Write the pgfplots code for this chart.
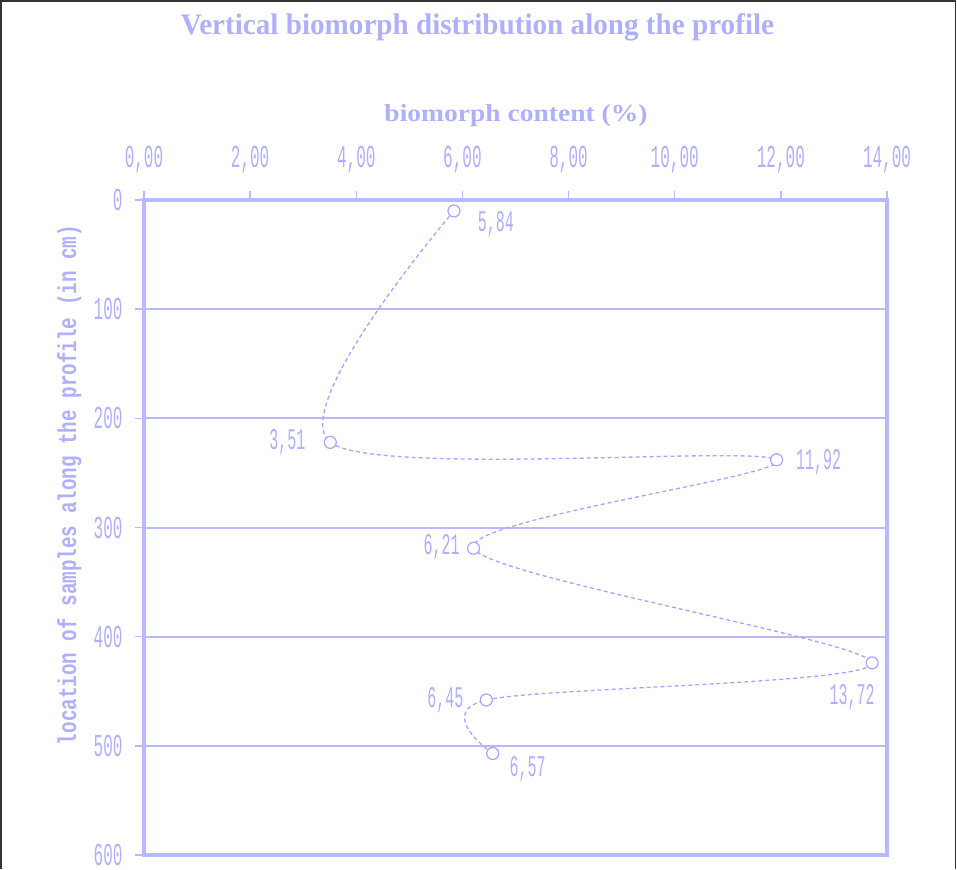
\documentclass[border=0pt]{standalone}
\usepackage{fontspec}
\setmainfont{Liberation Serif}
\newfontfamily\monof[FakeStretch=0.5]{Liberation Mono}
\newfontfamily\monoy[FakeStretch=0.8]{Liberation Mono}
\usepackage{pgfplots}
\pgfplotsset{compat=1.18}
\definecolor{lav}{RGB}{185,185,255}
\definecolor{lavline}{RGB}{165,165,250}
\definecolor{lavtext}{RGB}{175,175,250}
\tikzset{lbl/.style={font=\monof\fontsize{30}{30}\selectfont, text=lavtext}}
\begin{document}
\begin{tikzpicture}[x=1pt,y=1pt]
\path[use as bounding box] (0,0) rectangle (957,869);
\draw[black!80, line width=1.5pt] (1,0) -- (1,868) -- (955.5,868) -- (955.5,0);
\node[anchor=base, text=lavtext] at (477.5,834) {\resizebox{593pt}{21pt}{\bfseries Vertical biomorph distribution along the profile}};
\node[anchor=base, text=lavtext] at (516,747) {\resizebox{263pt}{17pt}{\bfseries biomorph content (\%)}};
\node[anchor=base, rotate=90, text=lavtext] at (76,384) {\resizebox{520pt}{19pt}{\bfseries\monoy location of samples along the profile (in cm)}};
\begin{axis}[at={(144pt,14pt)}, anchor=south west, scale only axis, width=743pt, height=655pt,
 xmin=0, xmax=14, ymin=0, ymax=600, y dir=reverse,
 xtick={0,2,...,14}, ytick={0,100,...,600},
 xtick pos=right, xticklabel pos=right, ytick pos=left,
 tick align=outside, major tick length=9pt,
 tick style={lav, line width=1.5pt},
 axis line style={lav, line width=3.5pt},
 ymajorgrids, major grid style={lav, line width=2pt},
 /pgf/number format/assume math mode=true,
 x tick label style={yshift=14pt, /pgf/number format/.cd, fixed, fixed zerofill, precision=2, use comma},
 y tick label style={xshift=-9pt},
 ticklabel style={font=\monof\fontsize{32}{32}\selectfont, text=lavtext},
 clip=false
]
\addplot[lavline, line width=1.3pt, dash pattern=on 4pt off 3pt, smooth, mark=*, mark size=6pt,
  mark options={solid, fill=white, draw=lavline, line width=1.2pt}]
  coordinates {(5.84,10) (3.51,222) (11.92,238) (6.21,319) (13.72,424) (6.45,458) (6.57,507)};
\node[lbl] at (axis cs:5.84,10) [xshift=42pt, yshift=-13pt] {5,84};
\node[lbl] at (axis cs:3.51,222) [xshift=-43pt] {3,51};
\node[lbl] at (axis cs:11.92,238) [xshift=42pt, yshift=-2pt] {11,92};
\node[lbl] at (axis cs:6.21,319) [xshift=-32pt, yshift=1pt] {6,21};
\node[lbl] at (axis cs:13.72,424) [xshift=-20pt, yshift=-34pt] {13,72};
\node[lbl] at (axis cs:6.45,458) [xshift=-41pt] {6,45};
\node[lbl] at (axis cs:6.57,507) [xshift=35pt, yshift=-16pt] {6,57};
\end{axis}
\end{tikzpicture}
\end{document}
